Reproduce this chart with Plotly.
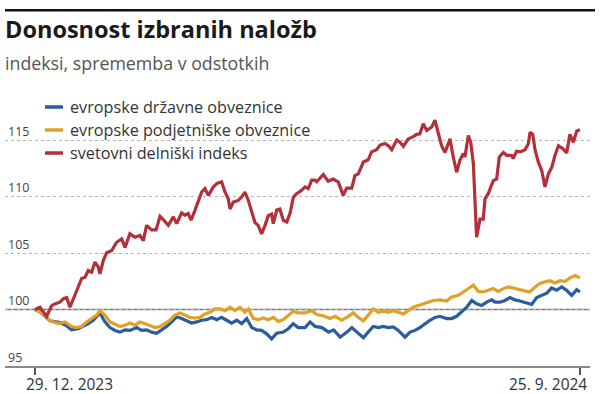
import pandas as pd
import plotly.graph_objects as go

# ---------------- data ----------------
start_date = "2023-12-29"
tick_dates = ["2023-12-29", "2024-09-25"]
tick_labels = ["29. 12. 2023", "25. 9. 2024"]
y_ticks = [95, 100, 105, 110, 115]

title_text = "Donosnost izbranih naložb"
subtitle_text = "indeksi, sprememba v odstotkih"

series_names = ["evropske državne obveznice",
                "evropske podjetniške obveznice",
                "svetovni delniški indeks"]
series_colors = ["#2b5c9c", "#e0a126", "#b3303a"]

# days since 29. 12. 2023
days_gov = [0, 2.5, 7.5, 12.4, 15.8, 18.2, 21.5, 24.0, 26.5, 29.0,
            31.5, 32.3, 34.8, 37.3, 39.8, 42.3, 44.8, 47.2, 50.6, 53.0,
            55.5, 58.0, 60.5, 63.0, 65.5, 68.0, 70.5, 72.9, 75.4, 77.9,
            80.4, 82.9, 85.4, 87.9, 90.4, 92.8, 95.3, 97.8, 100.3, 102.8,
            105.3, 107.8, 110.2, 112.7, 115.2, 117.7, 120.2, 123.5, 126.0, 128.4,
            130.9, 134.3, 136.8, 139.3, 142.7, 146.0, 148.5, 151.8, 155.1, 157.6,
            160.1, 163.3, 165.7, 168.2, 170.7, 173.2, 175.7, 178.2, 180.7, 184.0,
            186.5, 189.0, 191.4, 193.9, 196.4, 198.9, 201.4, 204.7, 207.2, 209.7,
            212.2, 214.7, 217.2, 219.6, 222.1, 224.6, 227.1, 228.8, 231.2, 233.7,
            236.2, 238.7, 241.2, 243.7, 247.0, 249.5, 252.0, 254.5, 256.9, 259.4,
            261.9, 264.4, 266.9, 269.4, 271.0]
gov = [100.0, 99.8, 99.0, 98.85, 98.55, 98.2, 98.3, 98.5, 98.75, 99.05,
       99.5, 99.7, 98.9, 98.4, 98.15, 98.0, 98.2, 98.15, 98.4, 98.15,
       98.2, 98.0, 97.9, 98.2, 98.5, 98.9, 99.35, 99.2, 99.0, 98.8,
       98.9, 99.05, 99.1, 99.3, 99.1, 99.3, 99.05, 98.8, 99.05, 98.75,
       99.2, 98.4, 98.2, 98.15, 97.85, 97.4, 97.9, 98.0, 98.3, 98.75,
       98.4, 98.4, 98.9, 98.5, 98.4, 98.0, 98.2, 97.55, 98.0, 98.4,
       98.0, 97.5, 98.0, 98.5, 98.4, 98.5, 98.4, 98.45, 98.15, 97.55,
       98.0, 98.15, 98.4, 98.75, 99.05, 99.3, 99.4, 99.2, 99.2, 99.4,
       99.8, 100.2, 100.8, 100.5, 100.35, 100.65, 100.85, 100.65, 100.65, 100.8,
       101.05, 100.85, 100.75, 100.65, 100.45, 101.05, 101.25, 101.45, 101.9, 101.7,
       102.0, 101.7, 101.25, 101.75, 101.55]

days_corp = [0, 4.1, 7.5, 11.6, 14.9, 18.2, 20.7, 23.2, 25.7, 28.2,
             30.7, 32.3, 34.8, 37.3, 39.8, 42.3, 44.8, 47.2, 49.7, 52.2,
             54.7, 57.2, 59.7, 62.2, 64.6, 67.1, 69.6, 72.1, 74.6, 77.1,
             79.6, 82.0, 84.5, 87.0, 89.5, 92.0, 94.5, 97.0, 99.5, 101.9,
             104.4, 106.1, 108.6, 111.0, 113.5, 116.0, 118.5, 121.0, 123.5, 126.0,
             128.4, 130.9, 134.3, 137.6, 140.1, 143.4, 146.7, 149.2, 152.5, 155.8,
             158.3, 160.8, 163.3, 165.7, 168.2, 170.7, 173.2, 175.7, 178.2, 180.7,
             183.2, 185.6, 188.1, 190.6, 193.1, 195.6, 198.1, 201.4, 204.7, 207.2,
             210.5, 213.0, 215.5, 218.0, 220.5, 222.9, 225.4, 227.9, 230.4, 232.9,
             235.4, 237.8, 240.3, 242.8, 246.1, 248.7, 251.1, 253.6, 256.1, 258.6,
             261.1, 263.6, 266.1, 268.6, 271.0]
corp = [100.0, 99.6, 99.0, 98.75, 98.9, 98.5, 98.4, 98.5, 98.9, 99.2,
        99.5, 99.9, 99.5, 98.9, 98.7, 98.5, 98.6, 98.8, 98.6, 98.9,
        98.75, 98.6, 98.4, 98.5, 98.75, 99.05, 99.5, 99.7, 99.5, 99.3,
        99.25, 99.3, 99.6, 99.75, 100.05, 100.05, 99.9, 100.2, 99.9, 100.2,
        99.75, 100.05, 99.2, 99.1, 99.25, 99.1, 99.3, 98.95, 99.1, 99.45,
        99.85, 99.7, 99.7, 99.9, 99.55, 99.45, 99.2, 99.4, 99.05, 99.4,
        99.7, 99.3, 99.0, 99.5, 100.05, 99.75, 99.85, 99.75, 99.9, 99.75,
        99.6, 99.9, 100.2, 100.35, 100.5, 100.65, 100.8, 100.85, 100.75, 101.1,
        101.25, 101.55, 101.85, 102.15, 101.6, 101.55, 101.7, 101.85, 101.6, 101.85,
        102.0, 101.9, 101.85, 101.75, 101.55, 102.0, 102.3, 102.45, 102.55, 102.35,
        102.55, 102.5, 102.8, 103.0, 102.8]

days_eq = [0, 2.5, 5.8, 8.3, 9.9, 12.4, 14.1, 15.8, 17.4, 20.7,
           23.2, 24.9, 26.5, 28.2, 29.8, 31.5, 32.3, 34.0, 35.7, 38.1,
           40.6, 43.1, 44.8, 47.2, 49.7, 52.2, 53.9, 55.5, 58.0, 60.2,
           62.2, 63.8, 66.3, 68.8, 70.5, 72.9, 74.6, 76.2, 77.6, 79.6,
           82.9, 84.5, 86.2, 88.7, 90.4, 92.8, 94.5, 96.1, 97.0, 98.6,
           101.1, 102.8, 104.4, 106.1, 107.8, 109.4, 111.0, 112.7, 114.4, 116.0,
           117.7, 118.5, 120.2, 121.8, 123.5, 125.2, 126.8, 128.5, 130.1, 132.6,
           134.3, 135.9, 137.6, 139.2, 140.1, 143.4, 145.8, 148.3, 150.8, 153.3,
           155.0, 157.5, 159.1, 160.8, 163.3, 165.7, 167.4, 169.9, 171.6, 174.0,
           175.7, 177.4, 179.9, 181.5, 183.2, 185.6, 188.1, 189.8, 191.4, 193.1,
           194.8, 197.3, 198.9, 200.6, 202.2, 203.9, 206.4, 208.0, 209.7, 211.3,
           213.0, 213.8, 215.5, 216.7, 218.0, 219.6, 221.3, 222.9, 223.8, 225.4,
           227.9, 229.6, 230.9, 232.9, 234.6, 237.0, 237.8, 239.5, 241.2, 243.7,
           245.3, 246.2, 247.5, 248.7, 250.3, 252.0, 253.6, 255.3, 257.0, 258.6,
           260.3, 262.7, 264.4, 266.0, 267.7, 269.4, 271.0]
eq = [100.0, 100.2, 99.4, 100.35, 100.5, 100.65, 100.95, 101.05, 100.2, 101.7,
      102.75, 102.85, 103.45, 103.3, 104.2, 103.75, 103.15, 104.35, 105.05, 105.2,
      105.95, 106.25, 105.5, 106.7, 106.4, 106.55, 106.1, 107.45, 107.05, 107.05,
      108.25, 107.95, 107.45, 108.2, 107.6, 108.55, 108.35, 108.5, 107.9, 108.8,
      110.4, 110.7, 110.1, 110.85, 111.15, 111.3, 110.4, 109.8, 108.9, 109.5,
      109.65, 109.95, 110.4, 109.65, 108.6, 107.7, 107.45, 106.7, 107.45, 108.3,
      108.45, 107.6, 108.8, 108.9, 107.9, 107.75, 108.5, 109.95, 110.25, 110.55,
      110.85, 110.7, 111.45, 111.45, 111.3, 111.95, 111.35, 111.55, 111.3, 110.1,
      110.75, 110.75, 111.85, 112.0, 113.05, 113.25, 113.95, 114.15, 114.55, 114.7,
      114.5, 114.15, 115.0, 114.8, 114.45, 115.1, 115.3, 115.5, 115.55, 116.45,
      115.85, 116.15, 116.75, 115.7, 114.5, 113.9, 115.1, 113.5, 112.15, 113.2,
      113.8, 113.5, 115.4, 114.8, 112.9, 106.4, 108.0, 108.0, 109.8, 110.25,
      111.4, 111.55, 113.5, 113.9, 113.65, 113.65, 113.35, 114.0, 113.95, 114.15,
      114.65, 115.7, 115.5, 114.1, 113.05, 112.3, 110.85, 112.0, 112.6, 113.65,
      114.5, 114.2, 113.85, 115.5, 114.8, 115.8, 115.9]

# ---------------- figure ----------------
W, H = 600, 394
ML, MR, MT, MB = 5, 10, 85, 28
PW, PH = W - ML - MR, H - MT - MB


def px_x(px):
    return (px - ML) / PW


def px_y(py):
    return (H - MB - py) / PH


start = pd.Timestamp(start_date)


def to_dates(days):
    return [start + pd.Timedelta(days=d) for d in days]


FONT = "Open Sans, Noto Sans, DejaVu Sans, sans-serif"

fig = go.Figure()
for days, vals, name, color in [(days_gov, gov, series_names[0], series_colors[0]),
                                (days_corp, corp, series_names[1], series_colors[1]),
                                (days_eq, eq, series_names[2], series_colors[2])]:
    fig.add_trace(go.Scatter(x=to_dates(days), y=vals, mode="lines", name=name,
                             line=dict(color=color, width=3.2), showlegend=False))

x_start = start - pd.Timedelta(days=14.9)
x_end = start + pd.Timedelta(days=276.0)

fig.update_layout(
    width=W, height=H,
    margin=dict(l=ML, r=MR, t=MT, b=MB),
    paper_bgcolor="white", plot_bgcolor="white",
    font=dict(family=FONT, color="#333"),
    showlegend=False,
    xaxis=dict(type="date", range=[x_start, x_end],
               tickvals=tick_dates, showticklabels=False,
               ticks="outside", ticklen=7, tickwidth=1.5, tickcolor="#555",
               showgrid=False, zeroline=False,
               showline=True, linecolor="#8a8a8a", linewidth=1.5),
    yaxis=dict(range=[95, 119.87], tickvals=y_ticks,
               ticklabelposition="inside top",
               tickfont=dict(size=12.5, color="#444"),
               showgrid=True, gridcolor="#b5b5b5", griddash="dot", gridwidth=1,
               zeroline=False, showline=False, ticks=""),
)

# reference line at 100
fig.add_shape(type="line", xref="paper", x0=0, x1=1, yref="y", y0=100, y1=100,
              line=dict(color="#777", width=1.5), layer="between")

# top rule
fig.add_shape(type="rect", xref="paper", yref="paper",
              x0=px_x(5), x1=px_x(595), y0=px_y(11.5), y1=px_y(9),
              fillcolor="#111", line=dict(width=0), layer="above")

# title + subtitle
fig.add_annotation(text=title_text, xref="paper", yref="paper",
                   x=px_x(3), y=px_y(29), xanchor="left", yanchor="middle",
                   showarrow=False,
                   font=dict(size=23.5, color="#1a1a1a", family=FONT, weight="bold"))
fig.add_annotation(text=subtitle_text, xref="paper", yref="paper",
                   x=px_x(3), y=px_y(63), xanchor="left", yanchor="middle",
                   showarrow=False, font=dict(size=17.8, color="#555", family=FONT))

# legend (white box covering grid, short swatches, labels)
fig.add_shape(type="rect", xref="paper", yref="paper",
              x0=px_x(38), x1=px_x(314), y0=px_y(96), y1=px_y(164),
              fillcolor="white", line=dict(width=0), layer="between")
rows = [107, 130, 153]
for name, color, ry in zip(series_names, series_colors, rows):
    fig.add_shape(type="line", xref="paper", yref="paper",
                  x0=px_x(45), x1=px_x(63), y0=px_y(ry), y1=px_y(ry),
                  line=dict(color=color, width=3.5), layer="above")
    fig.add_annotation(text=name, xref="paper", yref="paper",
                       x=px_x(68), y=px_y(ry), xanchor="left", yanchor="middle",
                       showarrow=False, font=dict(size=16.2, color="#333", family=FONT))

# x tick labels
for d, lab, anchor, shift in zip(tick_dates, tick_labels, ["left", "right"], [-11, 9]):
    fig.add_annotation(text=lab, x=d, xref="x", yref="paper", y=px_y(384),
                       xanchor=anchor, yanchor="middle", xshift=shift,
                       showarrow=False, font=dict(size=15.5, color="#333", family=FONT))

fig.write_html("out.html", config={"displayModeBar": False},
               post_script="document.body.style.margin='0';")
